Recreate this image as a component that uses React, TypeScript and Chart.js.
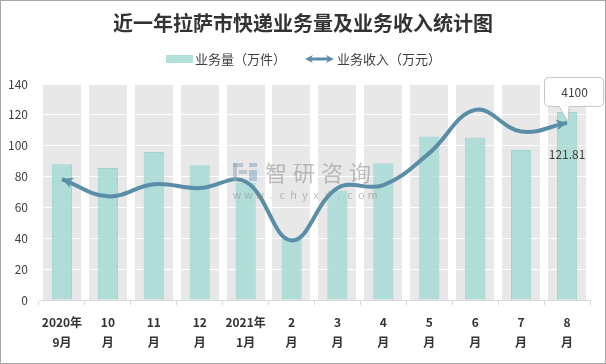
import React, { useEffect, useRef } from 'react';
import { Chart, registerables } from 'chart.js';

Chart.register(...registerables);

const titleText = '近一年拉萨市快递业务量及业务收入统计图';
const categories: string[][] = [
  ['2020年', '9月'], ['10', '月'], ['11', '月'], ['12', '月'], ['2021年', '1月'], ['2', '月'],
  ['3', '月'], ['4', '月'], ['5', '月'], ['6', '月'], ['7', '月'], ['8', '月'],
];
const volumeLabel = '业务量（万件）';
const revenueLabel = '业务收入（万元）';
const volume = [88, 85.5, 95.9, 87.4, 76, 40, 71, 88.7, 106, 105.4, 97.2, 121.81];
const revenue = [2800, 2400, 2680, 2590, 2740, 1380, 2590, 2660, 3400, 4400, 3900, 4100];
const yMin = 0;
const yMax = 140;
const yStep = 20;
const y2Max = 5000;

const LINE_COLOR = '#5a8da8';
const BAR_COLOR = 'rgba(166,218,213,0.85)';
const BAR_BORDER = 'rgba(150,210,204,0.9)';
const FONT = '"Noto Sans CJK SC", "Noto Sans", sans-serif';

function drawArrow(ctx: CanvasRenderingContext2D, x: number, y: number, angle: number, len: number, half: number) {
  ctx.save();
  ctx.translate(x, y);
  ctx.rotate(angle);
  ctx.beginPath();
  ctx.moveTo(0, 0);
  ctx.lineTo(-len, -half);
  ctx.lineTo(-len * 0.7, 0);
  ctx.lineTo(-len, half);
  ctx.closePath();
  ctx.fill();
  ctx.restore();
}

function roundRect(ctx: CanvasRenderingContext2D, x: number, y: number, w: number, h: number, r: number) {
  ctx.beginPath();
  ctx.moveTo(x + r, y);
  ctx.lineTo(x + w - r, y);
  ctx.quadraticCurveTo(x + w, y, x + w, y + r);
  ctx.lineTo(x + w, y + h - r);
  ctx.quadraticCurveTo(x + w, y + h, x + w - r, y + h);
  ctx.lineTo(x + r, y + h);
  ctx.quadraticCurveTo(x, y + h, x, y + h - r);
  ctx.lineTo(x, y + r);
  ctx.quadraticCurveTo(x, y, x + r, y);
  ctx.closePath();
}

const bgPlugin = {
  id: 'bgBands',
  beforeDraw(chart: any) {
    const { ctx, scales } = chart;
    const x = scales.x;
    const y = scales.y;
    ctx.save();
    ctx.fillStyle = '#ffffff';
    ctx.fillRect(0, 0, chart.width, chart.height);
    const step = x.getPixelForValue(1) - x.getPixelForValue(0);
    const w = step * 0.83;
    const top = y.getPixelForValue(yMax);
    const bottom = y.getPixelForValue(yMin);
    ctx.fillStyle = '#e8e8e8';
    for (let i = 0; i < categories.length; i++) {
      const cx = x.getPixelForValue(i);
      ctx.fillRect(Math.round(cx - w / 2), top, Math.round(w), bottom - top);
    }
    ctx.restore();
  },
};

const overlayPlugin = {
  id: 'overlay',
  afterDatasetsDraw(chart: any) {
    const { ctx, scales } = chart;
    const x = scales.x;
    const y = scales.y;
    ctx.save();

    // watermark
    const wx = 233;
    const wy = 163;
    ctx.globalAlpha = 0.55;
    ctx.fillStyle = '#9aa6b4';
    ctx.fillRect(wx, wy, 10, 4);
    ctx.fillRect(wx, wy, 4, 18);
    ctx.fillRect(wx + 6, wy + 7, 8, 4);
    ctx.fillStyle = '#7fa7c9';
    ctx.fillRect(wx + 16, wy, 8, 4);
    ctx.fillRect(wx + 16, wy + 7, 8, 11);
    ctx.fillStyle = '#8c8c8c';
    ctx.font = `22px ${FONT}`;
    ctx.textAlign = 'center';
    ctx.textBaseline = 'middle';
    const wm = '智研咨询';
    for (let i = 0; i < wm.length; i++) {
      ctx.fillText(wm[i], 276 + i * 28, wy + 10);
    }
    ctx.font = `11px ${FONT}`;
    const url = 'www.chyxx.com';
    for (let i = 0; i < url.length; i++) {
      ctx.fillText(url[i], 237 + i * 11.3, 195);
    }
    ctx.globalAlpha = 1;

    // arrows on line
    const meta = chart.getDatasetMeta(1);
    const pts = meta.data;
    ctx.fillStyle = LINE_COLOR;
    const p0 = pts[0];
    const a0 = Math.atan2(p0.y - p0.cp2y, p0.x - p0.cp2x);
    drawArrow(ctx, p0.x, p0.y, a0, 11, 5.5);
    const pn = pts[pts.length - 1];
    const an = Math.atan2(pn.y - pn.cp1y, pn.x - pn.cp1x);
    drawArrow(ctx, pn.x, pn.y, an, 11, 5.5);

    // bar label
    const lastIdx = volume.length - 1;
    const bx = x.getPixelForValue(lastIdx);
    const by = y.getPixelForValue(volume[lastIdx]);
    ctx.fillStyle = '#404040';
    ctx.font = `12px ${FONT}`;
    ctx.textAlign = 'center';
    ctx.textBaseline = 'middle';
    ctx.fillText(String(volume[lastIdx]), bx, by + 42);

    // callout for revenue
    const cx = pn.x;
    const cy = pn.y;
    const bxL = cx - 23;
    const bxT = cy - 46;
    const bw = 59;
    const bh = 29;
    ctx.fillStyle = '#ffffff';
    ctx.strokeStyle = '#c4c4c4';
    ctx.lineWidth = 1;
    roundRect(ctx, bxL + 0.5, bxT + 0.5, bw, bh, 5);
    ctx.fill();
    ctx.stroke();
    ctx.beginPath();
    ctx.moveTo(cx - 8, bxT + bh);
    ctx.lineTo(cx + 1, cy - 1);
    ctx.lineTo(cx + 2, bxT + bh);
    ctx.closePath();
    ctx.fill();
    ctx.beginPath();
    ctx.moveTo(cx - 8, bxT + bh + 0.5);
    ctx.lineTo(cx + 1, cy - 1);
    ctx.lineTo(cx + 2, bxT + bh + 0.5);
    ctx.stroke();
    ctx.fillStyle = '#404040';
    ctx.font = `12px ${FONT}`;
    ctx.fillText(String(revenue[revenue.length - 1]), bxL + bw / 2 + 1, bxT + bh / 2 + 1);

    ctx.restore();
  },
  afterDraw(chart: any) {
    const { ctx } = chart;
    ctx.save();
    // title
    ctx.fillStyle = '#333333';
    ctx.font = `bold 20px ${FONT}`;
    ctx.textAlign = 'center';
    ctx.textBaseline = 'middle';
    ctx.fillText(titleText, 303, 23);

    // legend
    const ly = 59;
    ctx.fillStyle = BAR_COLOR;
    ctx.fillRect(166, ly - 4, 27, 8);
    ctx.fillStyle = '#404040';
    ctx.font = `13px ${FONT}`;
    ctx.textAlign = 'left';
    ctx.fillText(volumeLabel, 195, ly);

    ctx.strokeStyle = LINE_COLOR;
    ctx.lineWidth = 3;
    ctx.beginPath();
    ctx.moveTo(309, ly);
    ctx.lineTo(330, ly);
    ctx.stroke();
    ctx.fillStyle = LINE_COLOR;
    drawArrow(ctx, 334, ly, 0, 8, 4);
    drawArrow(ctx, 305, ly, Math.PI, 8, 4);
    ctx.fillStyle = '#404040';
    ctx.fillText(revenueLabel, 337, ly);

    // outer border
    ctx.strokeStyle = '#a6a6a6';
    ctx.lineWidth = 1;
    ctx.strokeRect(0.5, 0.5, chart.width - 1, chart.height - 1);
    ctx.restore();
  },
};

export default function App() {
  const ref = useRef<HTMLCanvasElement>(null);

  useEffect(() => {
    document.body.style.margin = '0';
    const canvas = ref.current;
    if (!canvas) return;
    const chart = new Chart(canvas, {
      data: {
        labels: categories,
        datasets: [
          {
            type: 'bar',
            label: volumeLabel,
            data: volume,
            backgroundColor: BAR_COLOR,
            borderColor: BAR_BORDER,
            borderWidth: 1,
            categoryPercentage: 1,
            barPercentage: 0.44,
            yAxisID: 'y',
            order: 2,
          },
          {
            type: 'line',
            label: revenueLabel,
            data: revenue,
            borderColor: LINE_COLOR,
            borderWidth: 4,
            pointRadius: 0,
            tension: 0.4,
            fill: false,
            yAxisID: 'y2',
            order: 1,
          },
        ],
      } as any,
      options: {
        responsive: false,
        animation: false,
        layout: { padding: { top: 84, left: 0, right: 16, bottom: 8 } },
        plugins: {
          legend: { display: false },
          title: { display: false },
          tooltip: { enabled: false },
        },
        scales: {
          x: {
            type: 'category',
            offset: true,
            grid: {
              display: true,
              offset: true,
              drawOnChartArea: false,
              drawTicks: true,
              tickLength: 5,
              color: '#d9d9d9',
            },
            border: { display: true, color: '#d9d9d9' },
            ticks: {
              color: '#333333',
              font: { family: FONT, size: 12, weight: 'bold', lineHeight: 1.65 },
              padding: 8,
              maxRotation: 0,
              autoSkip: false,
            },
            afterFit(scale: any) {
              scale.height = 56;
            },
          },
          y: {
            min: yMin,
            max: yMax,
            ticks: {
              stepSize: yStep,
              color: '#404040',
              font: { family: FONT, size: 12 },
              padding: 11,
            },
            grid: { color: '#ffffff', lineWidth: 1, drawTicks: false },
            border: { display: false },
            afterFit(scale: any) {
              scale.width = 39;
            },
          },
          y2: {
            display: false,
            min: 0,
            max: y2Max,
          },
        },
      } as any,
      plugins: [bgPlugin, overlayPlugin],
    });
    return () => chart.destroy();
  }, []);

  return (
    <div style={{ width: 606, height: 364 }}>
      <canvas ref={ref} width={606} height={364} style={{ display: 'block' }} />
    </div>
  );
}
